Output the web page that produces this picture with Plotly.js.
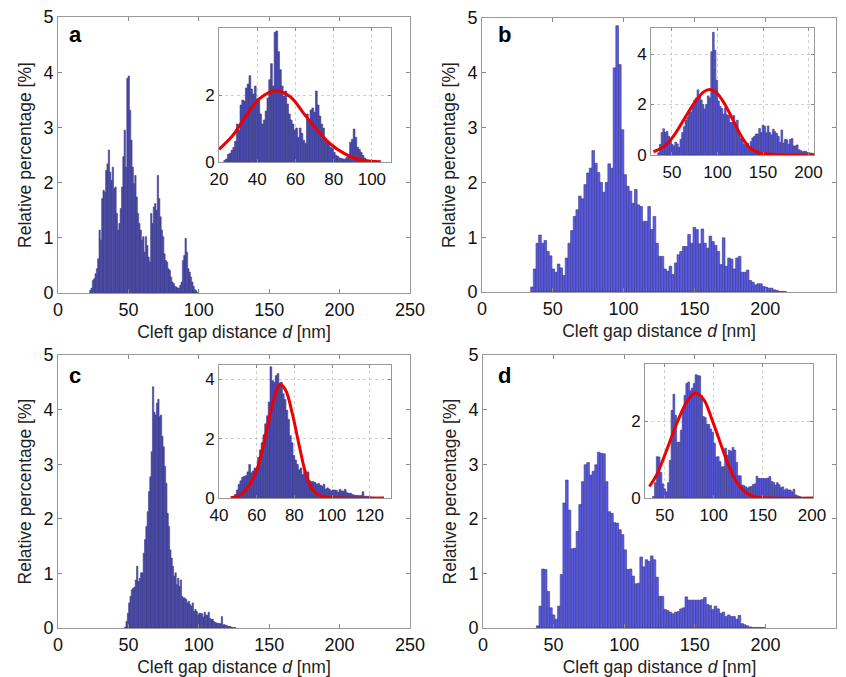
<!DOCTYPE html>
<html><head><meta charset="utf-8">
<script src="https://cdn.plot.ly/plotly-3.0.1.min.js"></script>
<style>html,body{margin:0;padding:0;background:#fff}#chart{width:846px;height:677px}</style>
</head><body><div id="chart"></div>
<script>
// ---------- DATA ----------
// Panel a (relative percentage per bin)
const aStart = 23.0, aBin = 0.94;
const aValues = [0.05,0.09,0.23,0.26,0.35,0.44,0.62,1.14,0.96,1.71,1.86,1.83,2.22,2.34,2.59,2.19,2.04,2.28,1.89,1.92,
  1.44,1.14,1.26,1.53,1.92,2.47,2.95,2.28,3.89,3.93,3.31,2.77,2.28,1.98,2.13,1.74,1.44,1.26,1.14,0.96,
  1.02,0.74,1.02,0.86,0.65,0.56,1.44,1.26,1.56,1.62,1.50,2.13,1.71,1.38,1.14,1.02,0.71,0.59,0.56,0.44,
  0.41,0.29,0.20,0.17,0.12,0.11,0.09,0.09,0.14,0.20,0.59,0.68,0.99,0.74,0.44,0.38,0.29,0.20,0.12,0.06,0.04,0.01];
const aFitX = [20,27.4,34.4,41.4,49.3,57.3,64.3,71.3,78.3,85.4,92.4,99.4,104.7];
const aFitY = [0.38,0.81,1.41,1.91,2.14,1.96,1.46,0.96,0.54,0.26,0.09,0.02,0.01];

// Panel b
const bStart = 35.3, bBin = 1.88;
const bValues = [0.09,0.42,0.89,1.04,0.89,0.94,0.74,0.66,0.42,0.36,
  0.51,0.44,0.30,0.62,0.89,1.12,1.38,1.50,1.75,1.70,
  1.96,2.17,2.26,2.58,2.35,2.18,2.00,1.82,2.00,2.34,
  2.26,4.09,4.86,4.15,2.96,2.14,1.93,1.84,1.62,1.87,
  1.59,1.56,1.29,1.29,1.56,1.14,1.38,0.89,0.65,0.65,
  0.42,0.38,0.47,0.32,0.53,0.68,0.74,0.83,0.83,1.05,
  0.89,1.18,1.14,0.88,1.15,0.89,0.80,1.02,0.92,0.85,
  0.74,0.50,0.99,0.47,0.62,0.60,0.42,0.62,0.65,0.36,
  0.36,0.40,0.21,0.18,0.13,0.15,0.15,0.10,0.09,0.07,
  0.07,0.04,0.03,0.01,0.01,0.01];
const bFitX = [29.7,41,52.5,63.9,75.3,84.8,91.3,98.1,107.6,117.1,126.6,136.1,145.6,159,181.7,206];
const bFitY = [0.13,0.33,0.79,1.45,2.10,2.50,2.59,2.50,2.04,1.38,0.72,0.26,0.09,0.03,0.0,0.0];

// Panel c
const cStart = 47.8, cBin = 0.94;
const cValues = [0.02,0.12,0.27,0.46,0.58,0.70,0.73,0.75,0.88,1.13,
  0.85,0.91,1.01,1.01,1.37,1.62,1.86,2.13,2.50,2.77,
  3.23,4.42,3.95,3.90,4.12,4.19,3.87,3.90,3.51,3.32,
  2.96,2.65,2.10,1.86,1.43,1.28,1.13,0.95,1.01,0.79,
  0.91,0.76,0.88,0.58,0.55,0.55,0.52,0.46,0.49,0.43,
  0.40,0.46,0.30,0.34,0.30,0.24,0.27,0.27,0.26,0.20,
  0.29,0.24,0.23,0.29,0.18,0.16,0.16,0.12,0.10,0.09,
  0.09,0.08,0.08,0.21,0.06,0.06,0.05,0.04,0.03,0.03,
  0.02,0.01,0.01,0.01];
const cFitX = [46.2,51.5,56.8,61.2,65.7,69.2,72.4,75.4,78.9,82.5,86,89.6,94,101,127.6];
const cFitY = [0.01,0.11,0.50,1.17,2.40,3.35,3.83,3.63,2.85,1.79,0.84,0.28,0.06,0.01,0.0];

// Panel d
const dStart = 38.7, dBin = 1.88;
const dValues = [0.04,0.40,1.08,1.07,0.67,0.37,0.24,0.16,0.40,0.98,
  2.29,2.71,2.16,1.45,1.46,1.77,2.26,2.68,2.99,3.03,
  2.80,2.87,2.99,3.22,3.20,3.19,2.68,2.13,2.10,1.93,
  1.92,1.80,1.71,1.43,1.07,1.08,0.95,0.81,0.82,1.30,
  1.12,1.25,1.22,1.32,1.25,0.93,0.58,0.58,0.34,0.32,
  0.29,0.26,0.29,0.30,0.35,0.37,0.57,0.51,0.51,0.51,
  0.51,0.51,0.52,0.56,0.43,0.41,0.34,0.40,0.35,0.27,
  0.29,0.21,0.24,0.21,0.21,0.16,0.23,0.08,0.06,0.04,
  0.02,0.01,0.01,0.01,0.01,0.01];
const dFitX = [34.5,42,52.2,62.5,72.7,81.2,89.8,98.3,106.8,115.4,123.9,132.4,141,158,201.7];
const dFitY = [0.30,0.61,1.26,1.96,2.52,2.74,2.57,2.04,1.43,0.83,0.39,0.15,0.04,0.0,0.0];

const panelLabels = ['a','b','c','d'];
const mainXTicks = [0,50,100,150,200,250];
const mainYTicks = [0,1,2,3,4,5];

// ---------- STYLE ----------
const FONT = 'Liberation Sans, Arial, sans-serif';
const BAR_WIDE = ['rgb(90,90,226)', 'rgb(55,55,135)'];
const BAR_FINE = ['rgb(72,72,178)', 'rgb(62,62,138)'];

function bars(vals, x0, dx, n, sty) {
  return {type:'bar', x0:x0, dx:dx, y:vals, xaxis:'x'+n, yaxis:'y'+n,
    marker:{color:sty[0], line:{color:sty[1], width:0.6}}, hoverinfo:'skip', showlegend:false};
}
function fit(xs, ys, n) {
  return {type:'scatter', mode:'lines', x:xs, y:ys, xaxis:'x'+n, yaxis:'y'+n,
    line:{color:'rgb(238,0,0)', width:3, shape:'spline', smoothing:1}, hoverinfo:'skip', showlegend:false};
}
const data = [
  bars(aValues,aStart,aBin,'',BAR_FINE), bars(aValues,aStart,aBin,2,BAR_FINE), fit(aFitX,aFitY,2),
  bars(bValues,bStart,bBin,3,BAR_WIDE), bars(bValues,bStart,bBin,4,BAR_WIDE), fit(bFitX,bFitY,4),
  bars(cValues,cStart,cBin,5,BAR_FINE), bars(cValues,cStart,cBin,6,BAR_FINE), fit(cFitX,cFitY,6),
  bars(dValues,dStart,dBin,7,BAR_WIDE), bars(dValues,dStart,dBin,8,BAR_WIDE), fit(dFitX,dFitY,8)
];
data[0].xaxis='x'; data[0].yaxis='y';

const W=846, H=677;
const dx = (a,b)=>[a/W,b/W];
const dy = (top,bot)=>[1-bot/H,1-top/H];

function mainX(dom, anchor){
  return {domain:dom, anchor:anchor, range:[0,250], tickvals:mainXTicks, ticks:'inside', ticklen:4,
    tickcolor:'#888', showline:true, linecolor:'#999', linewidth:1, mirror:'allticks', showgrid:false, zeroline:false,
    tickfont:{size:18, color:'#111'},
    title:{text:'Cleft gap distance <i>d</i> [nm]', font:{size:17.5, color:'#222'}, standoff:7}};
}
function mainY(dom, anchor){
  return {domain:dom, anchor:anchor, range:[0,5], tickvals:mainYTicks, ticks:'inside', ticklen:4,
    tickcolor:'#888', showline:true, linecolor:'#999', linewidth:1, mirror:'allticks', showgrid:false, zeroline:false,
    tickfont:{size:18, color:'#111'},
    title:{text:'Relative percentage [%]', font:{size:17.5, color:'#222'}, standoff:7}};
}
function insetX(dom, anchor, range, ticks){
  return {domain:dom, anchor:anchor, range:range, tickvals:ticks, ticks:'inside', ticklen:3, tickcolor:'#888',
    showline:true, linecolor:'#999', linewidth:1, mirror:'allticks', showgrid:true, gridcolor:'#d0d0d0',
    griddash:'dot', gridwidth:1, zeroline:false, tickfont:{size:17, color:'#111'}, ticklabelstandoff:2};
}
function insetY(dom, anchor, range, ticks){
  return {domain:dom, anchor:anchor, range:range, tickvals:ticks, ticks:'inside', ticklen:3, tickcolor:'#888',
    showline:true, linecolor:'#999', linewidth:1, mirror:'allticks', showgrid:true, gridcolor:'#d0d0d0',
    griddash:'dot', gridwidth:1, zeroline:false, tickfont:{size:17, color:'#111'}};
}

const layout = {
  width:W, height:H, margin:{l:0,r:0,t:0,b:0}, paper_bgcolor:'#fff', plot_bgcolor:'rgba(255,255,255,0)',
  font:{family:FONT, color:'#111'}, bargap:0, showlegend:false,
  xaxis: mainX(dx(58,410),'y'),  yaxis: mainY(dy(17,293),'x'),
  xaxis2: insetX(dx(219,391),'y2',[20,110],[20,40,60,80,100]), yaxis2: insetY(dy(28,162),'x2',[0,4.02],[0,2]),
  xaxis3: mainX(dx(482,836),'y3'), yaxis3: mainY(dy(18,292),'x3'),
  xaxis4: insetX(dx(651,814),'y4',[27,206],[50,100,150,200]), yaxis4: insetY(dy(28,155),'x4',[0,5.03],[0,2,4]),
  xaxis5: mainX(dx(58,410),'y5'), yaxis5: mainY(dy(355,628),'x5'),
  xaxis6: insetX(dx(219,391),'y6',[40,131.3],[40,60,80,100,120]), yaxis6: insetY(dy(365,498),'x6',[0,4.48],[0,2,4]),
  xaxis7: mainX(dx(483,836),'y7'), yaxis7: mainY(dy(355,628),'x7'),
  xaxis8: insetX(dx(645,813),'y8',[30,201],[50,100,150,200]), yaxis8: insetY(dy(364,498),'x8',[0,3.5],[0,2]),
  annotations: [
    [75,35],[504,35],[75,375],[504,375]
  ].map((p,i)=>({text:'<b>'+panelLabels[i]+'</b>', x:p[0]/W, y:1-p[1]/H, xref:'paper', yref:'paper',
      showarrow:false, font:{size:22, color:'#000', family:FONT}, xanchor:'center', yanchor:'middle'}))
};
Plotly.newPlot('chart', data, layout, {displayModeBar:false, staticPlot:true});
</script></body></html>
